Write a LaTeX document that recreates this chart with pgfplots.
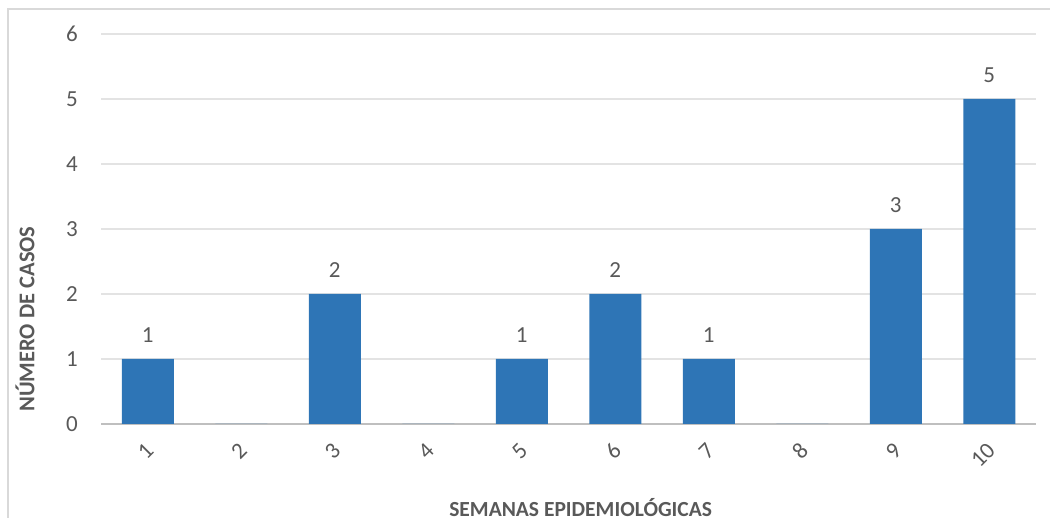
\documentclass[border=0pt]{standalone}
\usepackage{fontspec}
\setmainfont{Carlito}
\usepackage{pgfplots}
\pgfplotsset{compat=1.18}
\definecolor{barblue}{HTML}{2E75B6}
\definecolor{txtgray}{HTML}{595959}
\definecolor{gridgray}{HTML}{E3E3E3}
\definecolor{axisgray}{HTML}{BFBFBF}
\definecolor{framegray}{HTML}{D9D9D9}
\begin{document}
\begin{tikzpicture}[x=1pt,y=1pt]
\useasboundingbox (0,0) rectangle (1050,518);
\draw[framegray, line width=2pt] (8,0) -- (8,509) -- (1050,509);
\begin{axis}[
  at={(101pt,94pt)}, anchor=south west,
  scale only axis, width=935pt, height=390pt,
  xmin=0.5, xmax=10.5, ymin=0, ymax=6,
  ybar, bar width=52pt,
  xtick={1,...,10}, ytick={0,...,6},
  ymajorgrids, grid style={gridgray, line width=1.2pt},
  axis x line=bottom, axis y line=left,
  y axis line style={draw=none},
  x axis line style={axisgray, line width=2.5pt, -},
  major tick length=0pt,
  /pgf/number format/assume math mode=true,
  ticklabel style={txtgray, font=\fontsize{23}{27}\selectfont},
  xticklabel style={xshift=2pt, yshift=-23pt, rotate=45, anchor=east, inner sep=0pt},
  yticklabel style={inner sep=0pt, xshift=-23pt},
  xlabel={\bfseries SEMANAS EPIDEMIOLÓGICAS},
  ylabel={\bfseries NÚMERO DE CASOS},
  label style={txtgray, font=\fontsize{21.5}{24}\selectfont},
  xlabel style={at={(axis description cs:0.513,-0.215)}, anchor=center},
  ylabel style={at={(axis description cs:-0.0813,0.269)}, anchor=center, font=\fontsize{22.5}{25}\selectfont},
  nodes near coords,
  point meta=explicit symbolic,
  nodes near coords style={txtgray, font=\fontsize{23}{27}\selectfont, inner sep=0pt, anchor=south, yshift=16pt},
]
\addplot[fill=barblue, draw=none] coordinates {
  (1,1) [1]
  (2,0) []
  (3,2) [2]
  (4,0) []
  (5,1) [1]
  (6,2) [2]
  (7,1) [1]
  (8,0) []
  (9,3) [3]
  (10,5) [5]
};
\end{axis}
\end{tikzpicture}
\end{document}
